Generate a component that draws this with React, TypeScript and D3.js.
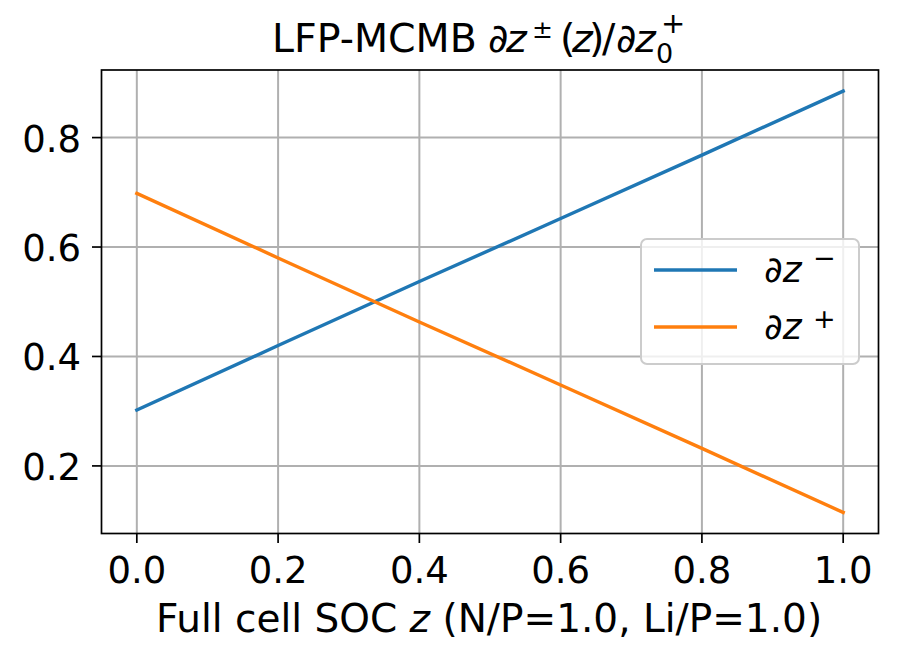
import React from "react";
import * as d3 from "d3";

const socValues = [0.0, 0.2, 0.4, 0.6, 0.8, 1.0];
const dzMinus = [0.302, 0.42, 0.537, 0.652, 0.768, 0.885];
const dzPlus = [0.698, 0.58, 0.463, 0.348, 0.232, 0.115];
const xTicks = [0.0, 0.2, 0.4, 0.6, 0.8, 1.0];
const yTicks = [0.2, 0.4, 0.6, 0.8];

const W = 899;
const H = 660;
const L = 101.5, R = 878.5, T = 70, B = 533.5;
const FONT = "DejaVu Sans";
const FS_TICK = 37;
const FS_TITLE = 39.5;
const FS_LABEL = 39;
const FS_LEG = 36;
const FS_SUP = 27;

export default function App() {
  const x = d3.scaleLinear().domain([-0.05, 1.05]).range([L, R]);
  const y = d3.scaleLinear().domain([0.0765, 0.9235]).range([B, T]);
  const line = d3
    .line<[number, number]>()
    .x((d) => x(d[0]))
    .y((d) => y(d[1]));
  const blue = "#1f77b4";
  const orange = "#ff7f0e";
  const minusPts = socValues.map((s, i) => [s, dzMinus[i]] as [number, number]);
  const plusPts = socValues.map((s, i) => [s, dzPlus[i]] as [number, number]);

  return (
    <svg
      width={W}
      height={H}
      style={{ position: "absolute", left: 0, top: 0, background: "#fff" }}
      fontFamily={FONT}
    >
      <rect x={0} y={0} width={W} height={H} fill="#fff" />
      {/* grid */}
      <g stroke="#b0b0b0" strokeWidth={2}>
        {xTicks.map((t) => (
          <line key={"gx" + t} x1={x(t)} x2={x(t)} y1={T} y2={B} />
        ))}
        {yTicks.map((t) => (
          <line key={"gy" + t} x1={L} x2={R} y1={y(t)} y2={y(t)} />
        ))}
      </g>
      {/* lines */}
      <path d={line(minusPts) || ""} fill="none" stroke={blue} strokeWidth={3.4} strokeLinecap="square" />
      <path d={line(plusPts) || ""} fill="none" stroke={orange} strokeWidth={3.4} strokeLinecap="square" />
      {/* spines */}
      <rect x={L} y={T} width={R - L} height={B - T} fill="none" stroke="#000" strokeWidth={1.7} />
      {/* ticks */}
      <g stroke="#000" strokeWidth={1.7}>
        {xTicks.map((t) => (
          <line key={"tx" + t} x1={x(t)} x2={x(t)} y1={B} y2={B + 9.5} />
        ))}
        {yTicks.map((t) => (
          <line key={"ty" + t} x1={L - 9.5} x2={L} y1={y(t)} y2={y(t)} />
        ))}
      </g>
      <g fontSize={FS_TICK} fill="#000">
        {xTicks.map((t) => (
          <text key={"lx" + t} x={x(t)} y={582.5} textAnchor="middle">
            {d3.format(".1f")(t)}
          </text>
        ))}
        {yTicks.map((t) => (
          <text key={"ly" + t} x={81} y={y(t) + 14} textAnchor="end">
            {d3.format(".1f")(t)}
          </text>
        ))}
      </g>
      {/* title */}
      <text y={51.7} fontSize={FS_TITLE} fill="#000">
        <tspan x={272}>LFP-MCMB</tspan>
        <tspan x={488}>∂</tspan>
        <tspan x={506} fontStyle="italic">z</tspan>
      </text>
      <text x={532} y={37.5} fontSize={25} fill="#000">±</text>
      <text y={51.7} fontSize={FS_TITLE} fill="#000">
        <tspan x={560}>(</tspan>
        <tspan x={572} fontStyle="italic">z</tspan>
        <tspan x={589}>)</tspan>
        <tspan x={602}>/</tspan>
        <tspan x={616}>∂</tspan>
        <tspan x={635} fontStyle="italic">z</tspan>
      </text>
      <text x={656} y={63} fontSize={FS_SUP} fill="#000">0</text>
      <text x={661} y={33} fontSize={29} fill="#000">+</text>
      {/* x label */}
      <text x={489} y={631.5} fontSize={FS_LABEL} fill="#000" textAnchor="middle">
        <tspan>Full cell SOC </tspan>
        <tspan fontStyle="italic">z</tspan>
        <tspan> (N/P=1.0, Li/P=1.0)</tspan>
      </text>
      {/* legend */}
      <rect
        x={641}
        y={239}
        width={218}
        height={125}
        rx={6}
        fill="#fff"
        fillOpacity={0.8}
        stroke="#cccccc"
        strokeWidth={2}
      />
      <line x1={654} x2={737} y1={270} y2={270} stroke={blue} strokeWidth={3.4} />
      <line x1={654} x2={737} y1={327} y2={327} stroke={orange} strokeWidth={3.4} />
      <text y={281.5} fontSize={FS_LEG} fill="#000">
        <tspan x={764}>∂</tspan>
        <tspan fontStyle="italic">z</tspan>
        <tspan x={813} y={267} fontSize={FS_SUP}>−</tspan>
      </text>
      <text y={338.5} fontSize={FS_LEG} fill="#000">
        <tspan x={764}>∂</tspan>
        <tspan fontStyle="italic">z</tspan>
        <tspan x={813} y={327.8} fontSize={FS_SUP}>+</tspan>
      </text>
    </svg>
  );
}
